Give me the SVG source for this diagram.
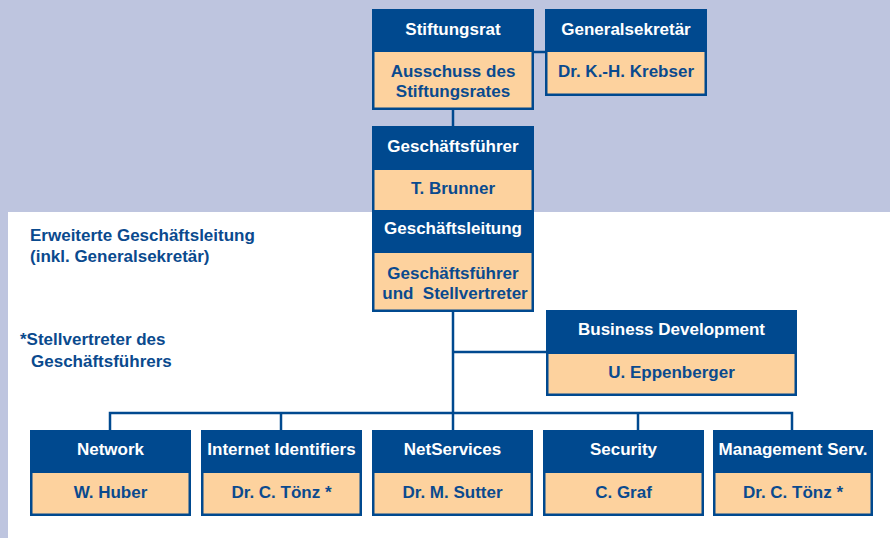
<svg xmlns="http://www.w3.org/2000/svg" width="890" height="538" viewBox="0 0 890 538">
<style>
text{font-family:"Liberation Sans",Arial,Helvetica,sans-serif;font-weight:bold;font-size:17px}
.h{fill:#ffffff;text-anchor:middle}
.p{fill:#0a4a8e;text-anchor:middle}
.l{fill:#0a4a8e}
.hd{fill:#00498f}
.pc{fill:#fdd29e}
.c{stroke:#00498f;stroke-width:2.5;fill:none}
</style>
<rect x="0" y="0" width="890" height="538" fill="#ffffff"/>
<rect x="0" y="0" width="890" height="212" fill="#bec5df"/>
<rect x="0" y="0" width="8" height="538" fill="#bec5df"/>

<g id="connectors">
<path class="c" d="M534 52H545"/>
<path class="c" d="M453 110V126"/>
<path class="c" d="M453 312V430"/>
<path class="c" d="M453 352H546"/>
<path class="c" d="M110 430V413H792V430"/>
<path class="c" d="M281 413V430"/>
<path class="c" d="M638 413V430"/>
</g>

<g id="stiftungsrat">
<rect class="hd" x="372" y="9" width="162" height="101"/>
<rect class="pc" x="374.5" y="52" width="157" height="55.5"/>
<text class="h" x="453" y="35">Stiftungsrat</text>
<text class="p" x="453" y="77">Ausschuss des</text>
<text class="p" x="453" y="97">Stiftungsrates</text>
</g>

<g id="generalsekretaer">
<rect class="hd" x="545" y="9" width="162" height="87"/>
<rect class="pc" x="547.5" y="52" width="157" height="41.5"/>
<text class="h" x="626" y="35">Generalsekretär</text>
<text class="p" x="626" y="77">Dr. K.-H. Krebser</text>
</g>

<g id="geschaeftsfuehrer">
<rect class="hd" x="372" y="126" width="162" height="186"/>
<rect class="pc" x="374.5" y="170" width="157" height="40"/>
<rect class="pc" x="374.5" y="253" width="157" height="56.5"/>
<text class="h" x="453" y="152">Geschäftsführer</text>
<text class="p" x="453" y="194">T. Brunner</text>
<text class="h" x="453" y="234">Geschäftsleitung</text>
<text class="p" x="453" y="279">Geschäftsführer</text>
<text class="p" x="455" y="299" xml:space="preserve">und  Stellvertreter</text>
</g>

<g id="business-development">
<rect class="hd" x="546" y="310" width="251" height="86"/>
<rect class="pc" x="548.5" y="354" width="246" height="39.5"/>
<text class="h" x="671.5" y="335">Business Development</text>
<text class="p" x="671.5" y="378">U. Eppenberger</text>
</g>

<g id="network">
<rect class="hd" x="30" y="430" width="161" height="86"/>
<rect class="pc" x="32.5" y="473" width="156" height="40.5"/>
<text class="h" x="110.5" y="455">Network</text>
<text class="p" x="110.5" y="498">W. Huber</text>
</g>

<g id="internet-identifiers">
<rect class="hd" x="201" y="430" width="161" height="86"/>
<rect class="pc" x="203.5" y="473" width="156" height="40.5"/>
<text class="h" x="281.5" y="455">Internet Identifiers</text>
<text class="p" x="281.5" y="498">Dr. C. Tönz *</text>
</g>

<g id="netservices">
<rect class="hd" x="372" y="430" width="161" height="86"/>
<rect class="pc" x="374.5" y="473" width="156" height="40.5"/>
<text class="h" x="452.5" y="455">NetServices</text>
<text class="p" x="452.5" y="498">Dr. M. Sutter</text>
</g>

<g id="security">
<rect class="hd" x="543" y="430" width="161" height="86"/>
<rect class="pc" x="545.5" y="473" width="156" height="40.5"/>
<text class="h" x="623.5" y="455">Security</text>
<text class="p" x="623.5" y="498">C. Graf</text>
</g>

<g id="management-serv">
<rect class="hd" x="713" y="430" width="160" height="86"/>
<rect class="pc" x="715.5" y="473" width="155" height="40.5"/>
<text class="h" x="793" y="455">Management Serv.</text>
<text class="p" x="793" y="498">Dr. C. Tönz *</text>
</g>

<g id="legend">
<text class="l" x="30" y="241">Erweiterte Geschäftsleitung</text>
<text class="l" x="30" y="262">(inkl. Generalsekretär)</text>
<text class="l" x="20" y="345">*Stellvertreter des</text>
<text class="l" x="31" y="367">Geschäftsführers</text>
</g>
</svg>
